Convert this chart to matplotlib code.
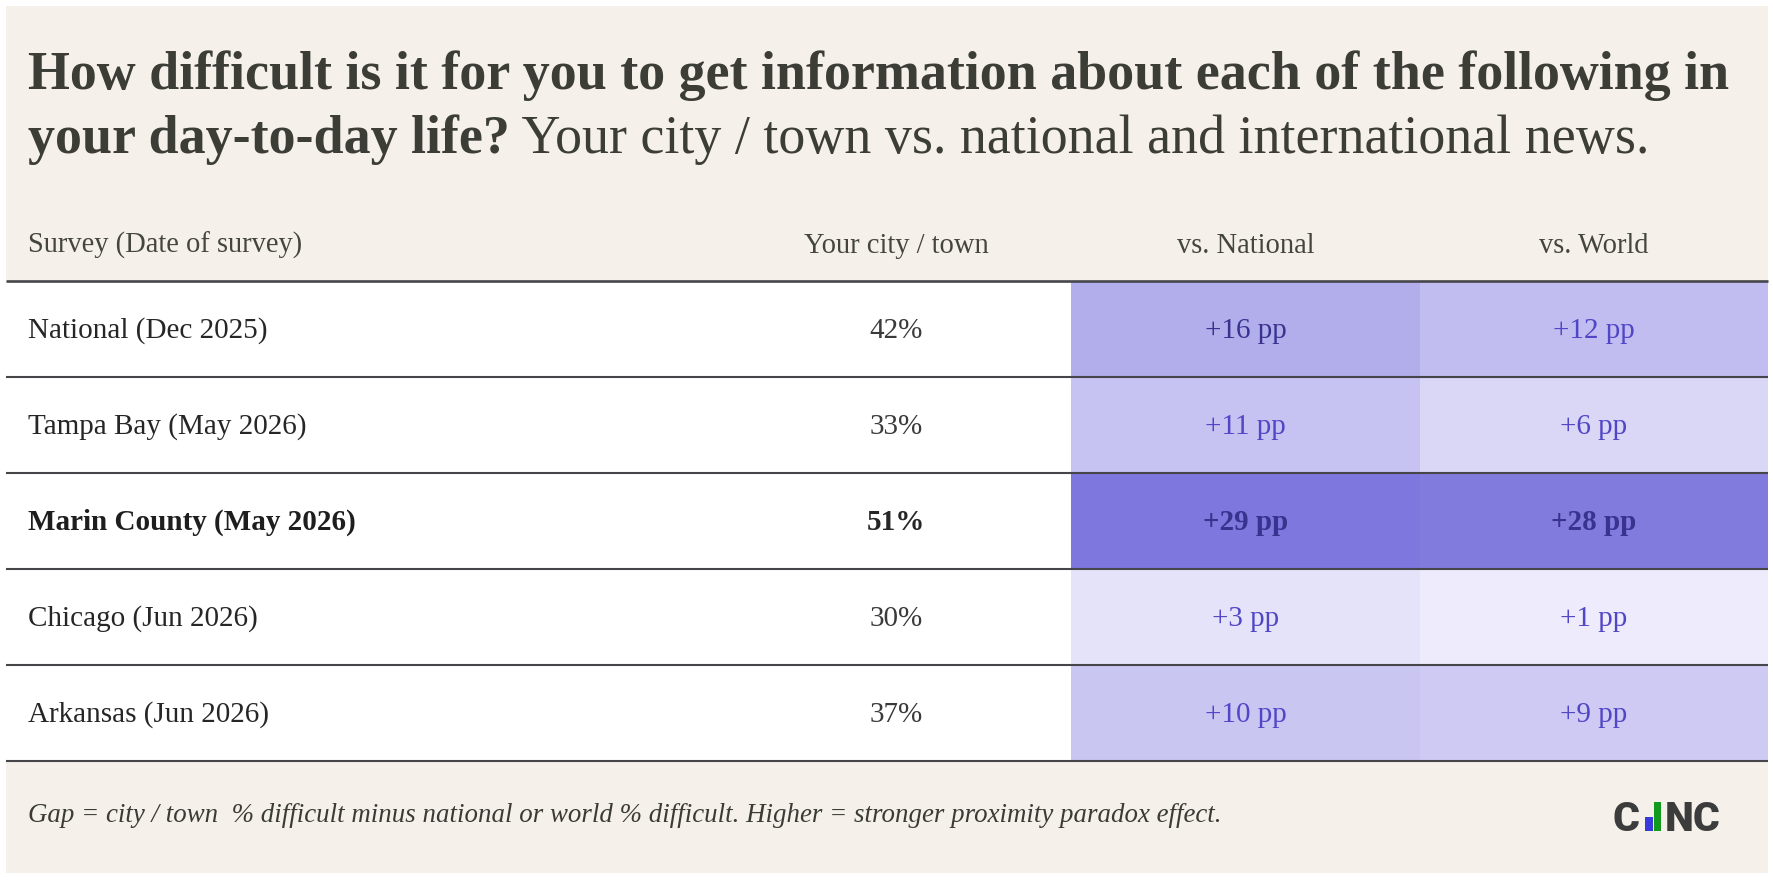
import matplotlib
matplotlib.use("Agg")
import matplotlib.pyplot as plt
from matplotlib.patches import Rectangle
from matplotlib.colors import LinearSegmentedColormap, Normalize

# ---------------- data ----------------
surveys = ["National (Dec 2025)", "Tampa Bay (May 2026)", "Marin County (May 2026)",
           "Chicago (Jun 2026)", "Arkansas (Jun 2026)"]
city_pct = [42, 33, 51, 30, 37]
gap_national = [16, 11, 29, 3, 10]
gap_world = [12, 6, 28, 1, 9]
highlight = "Marin County (May 2026)"
headers = ["Survey (Date of survey)", "Your city / town", "vs. National", "vs. World"]
title_bold_1 = "How difficult is it for you to get information about each of the following in"
title_bold_2 = "your day-to-day life?"
title_rest = " Your city / town vs. national and international news."
footnote = ("Gap = city / town  % difficult minus national or world % difficult. "
            "Higher = stronger proximity paradox effect.")

# ---------------- style ----------------
W, H = 1774, 880
SERIF = ["Liberation Serif", "DejaVu Serif"]
BEIGE = "#F5F1EA"
TXT = "#3D3D38"
LINE = "#46464A"

fig = plt.figure(figsize=(W / 100, H / 100), dpi=100)
fig.patch.set_facecolor("white")
ax = fig.add_axes([0, 0, 1, 1])
ax.set_xlim(0, W)
ax.set_ylim(H, 0)
ax.axis("off")
renderer = fig.canvas.get_renderer()


def width(t):
    return t.get_window_extent(renderer).width


def fit(t, target):
    t.set_fontsize(t.get_fontsize() * target / width(t))
    return t.get_fontsize()


# card background
ax.add_patch(Rectangle((6, 6), W - 12, H - 13, fc=BEIGE, ec="none", zorder=0))

# title
t1 = ax.text(28, 89, title_bold_1, family=SERIF, weight="bold", fontsize=30,
             color=TXT, va="baseline", ha="left")
fs_title = fit(t1, 1700)
t2a = ax.text(28, 153, title_bold_2, family=SERIF, weight="bold", fontsize=fs_title,
              color=TXT, va="baseline", ha="left")
ax.text(28 + width(t2a), 153, title_rest, family=SERIF, fontsize=fs_title,
        color=TXT, va="baseline", ha="left")

# table geometry
L, R = 6, 1768
top = 281
rh = 96
x_nat, x_world = 1071, 1420
centers = [None, 896, (x_nat + x_world) / 2, (x_world + R) / 2]

# header
th = ax.text(28, 253, headers[0], family=SERIF, fontsize=16, color="#454540",
             va="baseline", ha="left")
fs_head = fit(th, 275)
for j in range(1, 4):
    ax.text(centers[j], 253, headers[j], family=SERIF, fontsize=fs_head,
            color="#454540", va="baseline", ha="center")

# body
n = len(surveys)
ax.add_patch(Rectangle((L, top), R - L, rh * n, fc="white", ec="none", zorder=1))
cmap = LinearSegmentedColormap.from_list("gap", ["#F1EFFD", "#7A73DC"])
norm = Normalize(0, 30)

probe = ax.text(0, -100, surveys[3], family=SERIF, fontsize=18)
fs_body = fit(probe, 230)
probe.remove()

for i, name in enumerate(surveys):
    y0 = top + rh * i
    yb = y0 + rh / 2 + 9
    bold = name == highlight
    wt = "bold" if bold else "normal"
    ax.text(28, yb, name, family=SERIF, fontsize=fs_body, weight=wt,
            color="#1E1E1E" if bold else "#262626", va="baseline", ha="left", zorder=3)
    ax.text(centers[1], yb, f"{city_pct[i]}%", family=SERIF, fontsize=fs_body,
            weight=wt, color="#262626" if bold else "#3A3A3A",
            va="baseline", ha="center", zorder=3)
    for x0, x1, vals, c in ((x_nat, x_world, gap_national, centers[2]),
                            (x_world, R, gap_world, centers[3])):
        v = vals[i]
        ax.add_patch(Rectangle((x0, y0), x1 - x0, rh, fc=cmap(norm(v)), ec="none", zorder=2))
        ax.text(c, yb, f"+{v} pp", family=SERIF, fontsize=fs_body, weight=wt,
                color="#38338F" if v >= 15 else "#5146C6",
                va="baseline", ha="center", zorder=3)

# lines
ax.plot([L, R], [top + 0.5, top + 0.5], color=LINE, lw=1.9, zorder=4,
        solid_capstyle="butt")
for i in range(1, n + 1):
    y = top + rh * i
    ax.plot([L, R], [y, y], color=LINE, lw=1.5, zorder=4, solid_capstyle="butt")

# footnote
tf = ax.text(28, 822, footnote, family=SERIF, style="italic", fontsize=17,
             color="#3A3A36", va="baseline", ha="left")
fit(tf, 1197)

# logo
LOGO = ["Roboto", "DejaVu Sans"]
ax.text(1613, 831, "C", family=LOGO, weight=900, fontsize=29.5,
        color="#3C3C3C", va="baseline", ha="left")
ax.add_patch(Rectangle((1645, 817), 8, 14, fc="#3A3ADB", ec="none"))
ax.add_patch(Rectangle((1654, 802), 7.5, 29, fc="#129A1E", ec="none"))
ax.text(1665, 831, "NC", family=LOGO, weight=900, fontsize=29.5,
        color="#3C3C3C", va="baseline", ha="left")

fig.savefig("out.png", dpi=100, facecolor="white")
